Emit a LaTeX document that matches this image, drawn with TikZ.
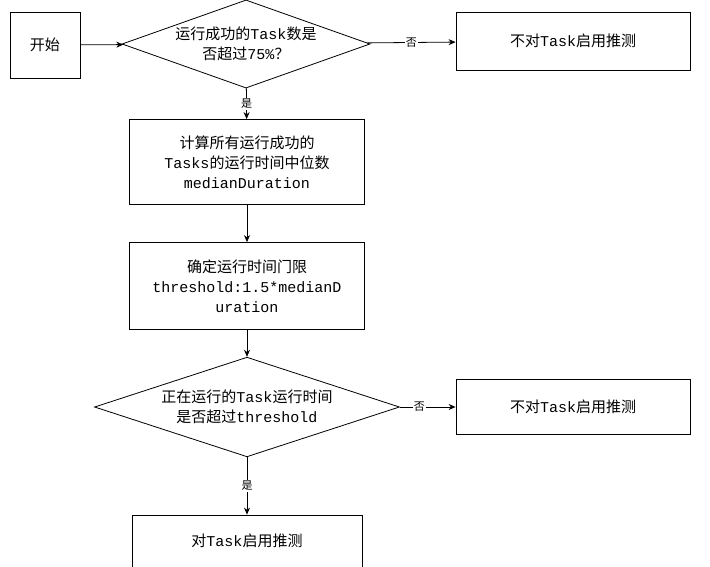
\documentclass[tikz,border=0pt]{standalone}
\usepackage{fontspec}
\setmainfont{Liberation Mono}
\newfontfamily\cjk{Noto Sans CJK SC}
\usetikzlibrary{shapes.geometric,arrows.meta}
\begin{document}
\begin{tikzpicture}[x=1pt,y=-1pt,
  box/.style={draw,line width=0.8pt,minimum width=235pt,align=center,font=\fontsize{15}{20}\selectfont,inner sep=0pt},
  dia/.style={draw,line width=0.8pt,diamond,aspect=2.6,align=center,font=\fontsize{15}{20}\selectfont,inner sep=0pt},
  arr/.style={line width=0.8pt,-{Stealth[length=7pt,width=6pt]}},
  lab/.style={fill=white,font=\fontsize{11}{12}\selectfont\cjk,inner sep=1pt}]
\fill[white] (0,0) rectangle (710,566);
\useasboundingbox (0,0) rectangle (710,566);
\node[box,minimum width=70pt,minimum height=66pt] (start) at (45,45) {{\cjk 开始}};
\node[dia,minimum width=248pt,minimum height=68pt] (d1) at (246,44) {{\cjk 运行成功的}Task{\cjk 数是}\\{\cjk 否超过}75\%{\cjk ？}};
\node[box,minimum width=234pt,minimum height=58pt] (n1) at (573,41) {{\cjk 不对}Task{\cjk 启用推测}};
\node[box,minimum height=85pt] (b2) at (247,162) {{\cjk 计算所有运行成功的}\\Tasks{\cjk 的运行时间中位数}\\medianDuration};
\node[box,minimum height=87pt] (b3) at (247,286) {{\cjk 确定运行时间门限}\\threshold:1.5*medianD\\uration};
\node[dia,minimum width=305pt,minimum height=95pt] (d2) at (247,407) {{\cjk 正在运行的}Task{\cjk 运行时间}\\{\cjk 是否超过}threshold};
\node[box,minimum width=234pt,minimum height=55pt] (n2) at (573,407) {{\cjk 不对}Task{\cjk 启用推测}};
\node[box,minimum width=230pt,minimum height=52pt] (b4) at (247,541) {{\cjk 对}Task{\cjk 启用推测}};
\draw[arr] (start) -- (d1);
\draw[arr] (d1) -- node[lab]{否} (n1);
\draw[arr] (d1) -- node[lab]{是} (b2);
\draw[arr] (b2) -- (b3);
\draw[arr] (b3) -- (d2);
\draw[arr] (d2) -- node[lab,pos=0.35]{否} (n2);
\draw[arr] (d2) -- node[lab]{是} (b4);
\end{tikzpicture}
\end{document}
